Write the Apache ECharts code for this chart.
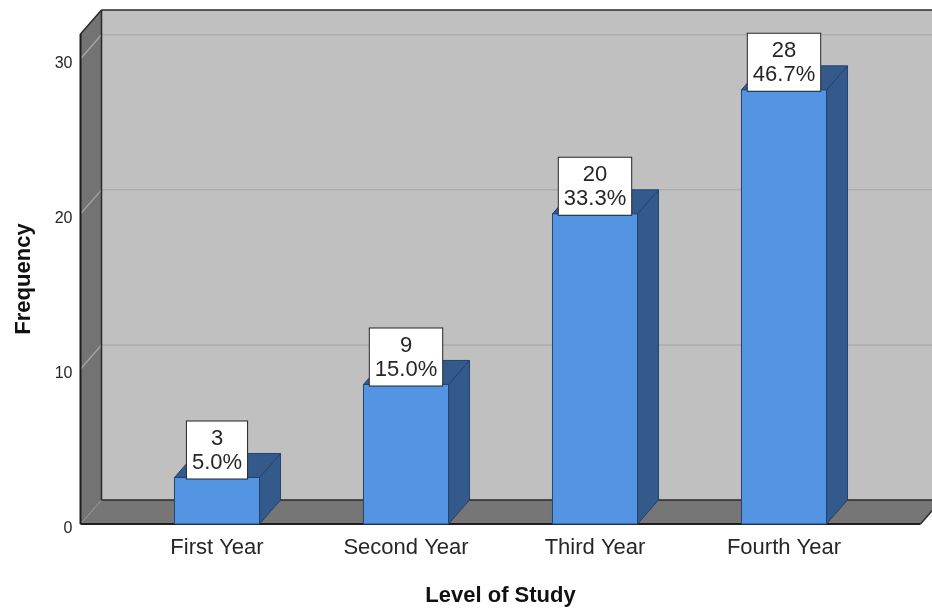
<!DOCTYPE html>
<html>
<head>
<meta charset="utf-8">
<title>Level of Study</title>
<script src="https://cdn.jsdelivr.net/npm/echarts@6.0.0/dist/echarts.min.js"></script>
<style>
  html, body { margin: 0; padding: 0; background: #fff; }
  #chart { width: 932px; height: 610px; }
</style>
</head>
<body>
<div id="chart"></div>
<script>
// data
var categories = ['First Year', 'Second Year', 'Third Year', 'Fourth Year'];
var counts = [3, 9, 20, 28];
var percents = ['5.0%', '15.0%', '33.3%', '46.7%'];
var yTicks = [0, 10, 20, 30];

var FONT = '"Liberation Sans", Arial, sans-serif';
var DX = 21, DY = -24;   // depth offset of the 3D box
var PAD = 42;            // walls stick out past the category band
var EDGE = '#1e1e1e';

var myChart = echarts.init(document.getElementById('chart'));

// walls, floor and gridlines of the box
function renderFrame(params, api) {
    var cs = params.coordSys;
    var L = cs.x - PAD, R = cs.x + cs.width + PAD;
    var yTop = cs.y, yBot = cs.y + cs.height;
    var kids = [];
    // back wall
    kids.push({ type: 'rect', shape: { x: L + DX, y: yTop + DY, width: R - L, height: yBot - yTop },
        style: { fill: '#c0c0c0' } });
    // left wall + floor
    kids.push({ type: 'polygon', shape: { points: [[L, yBot], [L, yTop], [L + DX, yTop + DY], [L + DX, yBot + DY]] },
        style: { fill: '#737373' } });
    kids.push({ type: 'polygon', shape: { points: [[L, yBot], [R, yBot], [R + DX, yBot + DY], [L + DX, yBot + DY]] },
        style: { fill: '#767676' } });
    // gridlines
    for (var i = 0; i < yTicks.length; i++) {
        if (yTicks[i] === 0) continue;
        var y = api.coord([0, yTicks[i]])[1];
        kids.push({ type: 'line', shape: { x1: L + DX, y1: y + DY, x2: R + DX, y2: y + DY },
            style: { stroke: '#adadad', lineWidth: 1.5 } });
        kids.push({ type: 'line', shape: { x1: L, y1: y, x2: L + DX, y2: y + DY },
            style: { stroke: '#a3a3a3', lineWidth: 1.5 } });
    }
    // floor / left wall seam
    kids.push({ type: 'line', shape: { x1: L, y1: yBot, x2: L + DX, y2: yBot + DY },
        style: { stroke: '#9a9a9a', lineWidth: 1, lineDash: [2, 2] } });
    // dark edges
    var edges = [
        [L + DX, yTop + DY, R + DX, yTop + DY],
        [L + DX, yTop + DY, L + DX, yBot + DY],
        [L + DX, yBot + DY, R + DX, yBot + DY],
        [L, yTop, L + DX, yTop + DY],
        [R, yBot, R + DX, yBot + DY]
    ];
    edges.forEach(function (e) {
        kids.push({ type: 'line', shape: { x1: e[0], y1: e[1], x2: e[2], y2: e[3] },
            style: { stroke: '#2a2a2a', lineWidth: 1.5 } });
    });
    kids.push({ type: 'line', shape: { x1: L, y1: yTop, x2: L, y2: yBot }, style: { stroke: EDGE, lineWidth: 2 } });
    kids.push({ type: 'line', shape: { x1: L, y1: yBot, x2: R, y2: yBot }, style: { stroke: EDGE, lineWidth: 2 } });
    return { type: 'group', children: kids };
}

// 3D bars with their count / percent box
function renderBar(params, api) {
    var idx = api.value(0);
    var top = api.coord([idx, api.value(1)]);
    var base = api.coord([idx, 0]);
    var w = api.size([1, 0])[0] * 0.45;
    var x = top[0] - w / 2;
    var side = '#345a8c', line = '#24436b';
    return {
        type: 'group',
        children: [
            { type: 'polygon', shape: { points: [[x + w, top[1]], [x + w + DX, top[1] + DY], [x + w + DX, base[1] + DY], [x + w, base[1]]] },
              style: { fill: side, stroke: line, lineWidth: 1 } },
            { type: 'polygon', shape: { points: [[x, top[1]], [x + DX, top[1] + DY], [x + w + DX, top[1] + DY], [x + w, top[1]]] },
              style: { fill: side, stroke: line, lineWidth: 1 } },
            { type: 'rect', shape: { x: x, y: top[1], width: w, height: base[1] - top[1] },
              style: { fill: '#5394e3', stroke: line, lineWidth: 1 } },
            { type: 'text', x: top[0], y: top[1] + 1,
              style: {
                  text: counts[idx] + '\n' + percents[idx],
                  font: '22px ' + FONT, fill: '#262626', align: 'center', verticalAlign: 'bottom',
                  lineHeight: 24, backgroundColor: '#fff', borderColor: '#222', borderWidth: 1,
                  padding: [5, 5, 4, 5]
              } }
        ]
    };
}

var option = {
    animation: false,
    grid: { left: 122.5, right: 53.5, top: 34, bottom: 86, outerBoundsMode: 'none' },
    xAxis: {
        type: 'category',
        data: categories,
        name: 'Level of Study',
        nameLocation: 'middle',
        nameGap: 61,
        nameTextStyle: { fontFamily: FONT, fontSize: 22, fontWeight: 'bold', color: '#111' },
        axisLine: { show: false },
        axisTick: { show: false },
        axisLabel: { fontFamily: FONT, fontSize: 22, color: '#262626', margin: 13 }
    },
    yAxis: {
        type: 'value',
        min: 0,
        max: 31.6,
        interval: 10,
        name: 'Frequency',
        nameLocation: 'middle',
        nameGap: 88,
        nameTextStyle: { fontFamily: FONT, fontSize: 22, fontWeight: 'bold', color: '#111' },
        axisLine: { show: false },
        axisTick: { show: false },
        splitLine: { show: false },
        axisLabel: {
            fontFamily: FONT, fontSize: 16, color: '#262626', margin: 50,
            verticalAlign: 'top', lineHeight: 10,
            formatter: function (v) { return yTicks.indexOf(v) >= 0 ? v : ''; }
        }
    },
    series: [
        { type: 'custom', name: 'frame', clip: false, z: 1, silent: true,
          renderItem: renderFrame, data: [[0, 0]] },
        { type: 'custom', name: 'Frequency', clip: false, z: 2, silent: true,
          renderItem: renderBar,
          data: counts.map(function (v, i) { return [i, v]; }) }
    ]
};
myChart.setOption(option);
</script>
</body>
</html>
